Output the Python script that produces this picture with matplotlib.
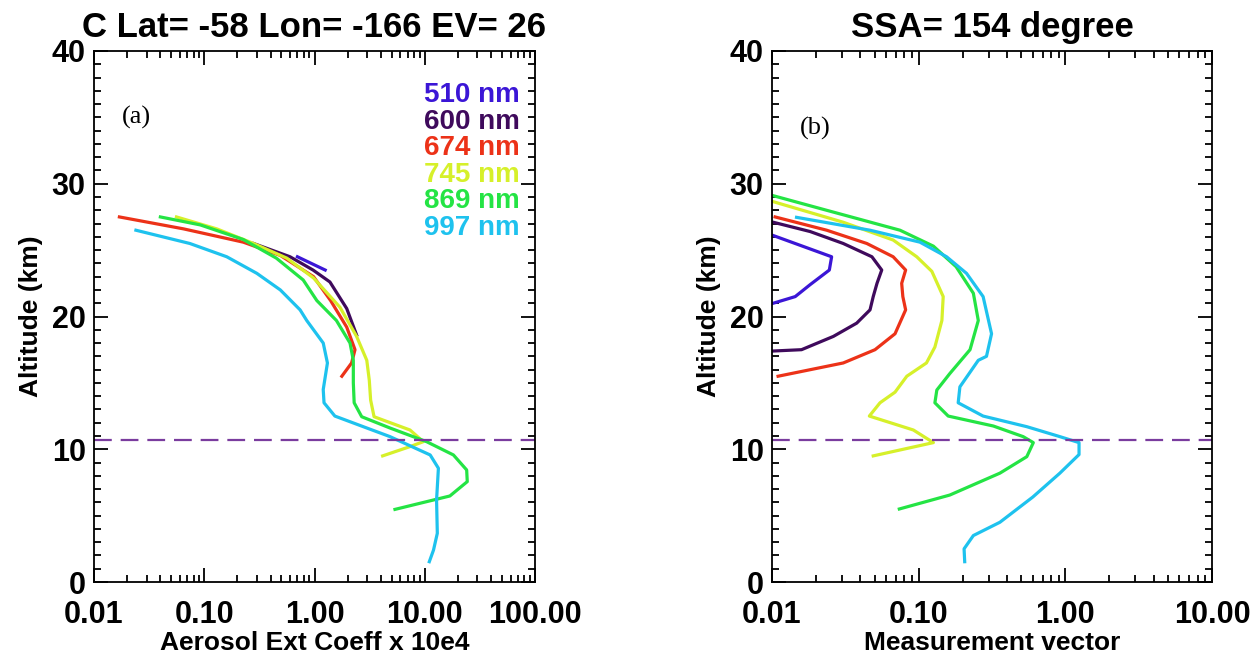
import numpy as np
import matplotlib
matplotlib.use('Agg')
import matplotlib.pyplot as plt
import matplotlib.transforms as mtransforms
from matplotlib.ticker import LogLocator, FixedLocator, NullFormatter, MultipleLocator

plt.rcParams['font.family'] = ['Liberation Sans', 'DejaVu Sans']

WAVES = ['510 nm', '600 nm', '674 nm', '745 nm', '869 nm', '997 nm']
COLORS = ['#3b16d6', '#3f0a5c', '#ec3218', '#d6f02a', '#24e444', '#1ec2ee']
TROPOPAUSE = 10.7

# panel (a): aerosol extinction coefficient x 10e4 vs altitude (km)
ext_510 = [0.70, 1.25]
alt_510 = [24.5, 23.5]
ext_600 = [0.28, 0.60, 0.97, 1.38, 1.96, 2.41]
alt_600 = [25.5, 24.5, 23.5, 22.6, 20.6, 18.6]
ext_674 = [0.017, 0.065, 0.226, 0.49, 0.98, 1.40, 1.96, 2.33, 2.17, 1.77]
alt_674 = [27.5, 26.6, 25.6, 24.6, 23.0, 21.2, 19.2, 17.5, 16.5, 15.5]
ext_745 = [0.056, 0.13, 0.28, 0.56, 0.98, 1.70, 2.41, 2.98, 3.14, 3.23, 3.47, 7.35, 9.7, 7.35, 4.15]
alt_745 = [27.5, 26.6, 25.5, 24.4, 22.9, 20.7, 18.5, 16.7, 15.2, 13.7, 12.45, 11.45, 10.57, 10.2, 9.5]
ext_869 = [0.040, 0.092, 0.226, 0.45, 0.79, 1.05, 1.58, 2.10, 2.25, 2.25, 2.29, 2.68, 4.84,
           10.4, 18.2, 24.0, 24.3, 16.9, 5.37]
alt_869 = [27.5, 26.9, 25.8, 24.4, 22.75, 21.2, 19.7, 18.0, 16.7, 15.0, 13.5, 12.45, 11.6,
           10.57, 9.57, 8.44, 7.56, 6.48, 5.47]
ext_997 = [0.024, 0.074, 0.16, 0.30, 0.49, 0.74, 0.85, 1.20, 1.31, 1.20, 1.22, 1.53, 2.77,
           4.84, 11.2, 13.3, 12.8, 13.0, 12.0, 11.0]
alt_997 = [26.5, 25.5, 24.5, 23.25, 22.0, 20.5, 19.7, 18.0, 16.5, 14.5, 13.5, 12.5, 11.7,
           10.95, 9.57, 8.57, 6.18, 3.67, 2.4, 1.53]

# panel (b): measurement vector vs altitude (km)
mv_510 = [0.0102, 0.0255, 0.0246, 0.0182, 0.0144, 0.0102]
mva_510 = [26.1, 24.5, 23.5, 22.4, 21.5, 21.0]
mv_600 = [0.0102, 0.0182, 0.0306, 0.048, 0.056, 0.052, 0.049, 0.0466, 0.0378, 0.0262, 0.0159, 0.0102]
mva_600 = [27.1, 26.4, 25.5, 24.5, 23.5, 22.5, 21.5, 20.5, 19.5, 18.5, 17.5, 17.4]
mv_674 = [0.0105, 0.0236, 0.0443, 0.067, 0.0815, 0.0766, 0.078, 0.0815, 0.069, 0.0504, 0.0306, 0.011]
mva_674 = [27.5, 26.5, 25.5, 24.5, 23.5, 22.5, 21.5, 20.5, 18.7, 17.5, 16.5, 15.5]
mv_745 = [0.0102, 0.0306, 0.067, 0.097, 0.123, 0.147, 0.144, 0.129, 0.113, 0.083, 0.069,
          0.0545, 0.0461, 0.092, 0.126, 0.049]
mva_745 = [28.65, 27.1, 25.76, 24.5, 23.4, 21.5, 19.7, 17.7, 16.5, 15.5, 14.3,
           13.5, 12.5, 11.45, 10.5, 9.5]
mv_869 = [0.0102, 0.0236, 0.0746, 0.126, 0.18, 0.236, 0.255, 0.224, 0.163, 0.133, 0.129,
          0.159, 0.323, 0.516, 0.605, 0.546, 0.358, 0.163, 0.0738]
mva_869 = [29.1, 28.0, 26.5, 25.3, 23.75, 21.75, 19.7, 17.5, 15.7, 14.46, 13.5,
           12.5, 11.75, 10.95, 10.5, 9.44, 8.2, 6.55, 5.5]
mv_997 = [0.0147, 0.0466, 0.102, 0.155, 0.212, 0.275, 0.314, 0.29, 0.255, 0.191, 0.186,
          0.275, 0.546, 0.918, 1.24, 1.24, 0.918, 0.60, 0.358, 0.236, 0.204, 0.206]
mva_997 = [27.47, 26.5, 25.6, 24.5, 23.25, 21.5, 18.7, 17.0, 16.7, 14.7, 13.5,
           12.5, 11.7, 10.95, 10.5, 9.6, 8.2, 6.4, 4.5, 3.5, 2.5, 1.53]

ext_x = [ext_510, ext_600, ext_674, ext_745, ext_869, ext_997]
ext_y = [alt_510, alt_600, alt_674, alt_745, alt_869, alt_997]
mv_x = [mv_510, mv_600, mv_674, mv_745, mv_869, mv_997]
mv_y = [mva_510, mva_600, mva_674, mva_745, mva_869, mva_997]

fig = plt.figure(figsize=(12.56, 6.58), dpi=100)
ax1 = fig.add_axes([94 / 1256, 1 - 582 / 658, 441 / 1256, 531 / 658])
ax2 = fig.add_axes([772 / 1256, 1 - 582 / 658, 440 / 1256, 531 / 658])


def style_axis(ax, xmin, xmax, xlabel, title):
    ax.set_xscale('log')
    ax.set_xlim(xmin, xmax)
    ax.set_ylim(0, 40)
    decades = [10.0 ** k for k in range(int(np.log10(xmin)), int(np.log10(xmax)) + 1)]
    ax.xaxis.set_major_locator(FixedLocator(decades))
    ax.xaxis.set_minor_locator(LogLocator(base=10, subs=np.arange(2, 10)))
    ax.xaxis.set_minor_formatter(NullFormatter())
    ax.set_xticklabels(['%.2f' % d for d in decades])
    ax.yaxis.set_major_locator(MultipleLocator(10))
    ax.yaxis.set_minor_locator(MultipleLocator(1))
    ax.tick_params(which='both', direction='in', top=True, right=True, width=1.3)
    ax.tick_params(which='major', length=10, labelsize=22)
    ax.tick_params(axis='x', which='major', pad=13)
    ax.tick_params(axis='y', which='major', pad=6)
    ax.tick_params(which='minor', length=5)
    for lab in ax.get_xticklabels() + ax.get_yticklabels():
        lab.set_fontweight('bold')
    # end labels sit slightly inside the axis range, as in the original
    ylabs = ax.get_yticklabels()
    ylabs[0].set_transform(ylabs[0].get_transform() +
                           mtransforms.ScaledTranslation(0, 12 / 100, fig.dpi_scale_trans))
    ylabs[-1].set_transform(ylabs[-1].get_transform() +
                            mtransforms.ScaledTranslation(0, -6 / 100, fig.dpi_scale_trans))
    for sp in ax.spines.values():
        sp.set_linewidth(1.3)
    ax.set_xlabel(xlabel, fontsize=19, fontweight='bold', labelpad=1)
    ax.set_ylabel('Altitude (km)', fontsize=19, fontweight='bold', labelpad=6)
    ax.set_title(title, fontsize=25, fontweight='bold', pad=10)
    ax.axhline(TROPOPAUSE, color='#7a3c9e', lw=1.6, ls=(0, (8, 4)))


for xs, ys, c in zip(ext_x, ext_y, COLORS):
    ax1.plot(xs, ys, color=c, lw=2.3)
for xs, ys, c in zip(mv_x, mv_y, COLORS):
    ax2.plot(xs, ys, color=c, lw=2.3)

style_axis(ax1, 0.01, 100, 'Aerosol Ext Coeff x 10e4', 'C Lat= -58 Lon= -166 EV= 26')
style_axis(ax2, 0.01, 10, 'Measurement vector', 'SSA= 154 degree')

# wavelength labels
for i, (w, c) in enumerate(zip(WAVES, COLORS)):
    ax1.text(0.966, 0.917 - i * 0.05, w, color=c, fontsize=20, fontweight='bold',
             ha='right', va='center', transform=ax1.transAxes)

ax1.text(0.063, 0.874, '(a)', fontsize=19, family='Liberation Serif', va='center',
         transform=ax1.transAxes)
ax2.text(0.064, 0.855, '(b)', fontsize=19, family='Liberation Serif', va='center',
         transform=ax2.transAxes)

plt.savefig('out.png', dpi=100)
